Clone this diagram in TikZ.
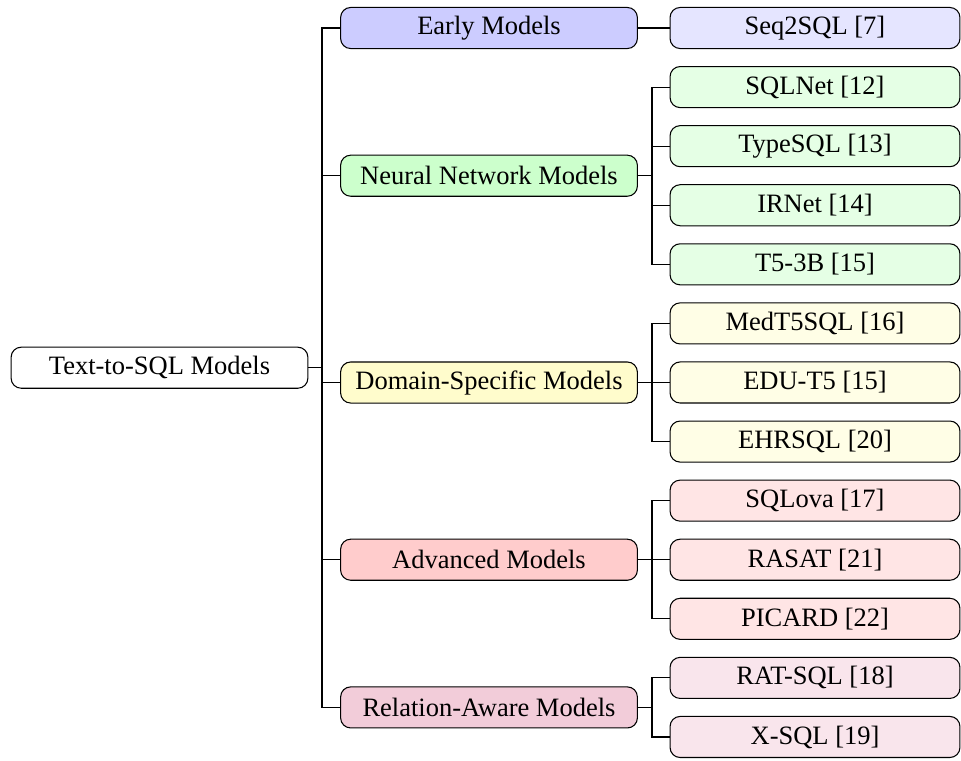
\documentclass[tikz,border=0pt]{standalone}
\usepackage{fontspec}
\setmainfont{Liberation Serif}
\tikzset{
  box/.style={draw, rounded corners=3.8pt, minimum height=15.5pt, inner sep=0pt, align=center},
  rootbox/.style={box, minimum width=112pt},
  catbox/.style={box, minimum width=112pt},
  leafbox/.style={box, minimum width=109.4pt},
}
\begin{document}
\begin{tikzpicture}[x=0.3774pt, y=-0.3774pt]
        \useasboundingbox (0,0) rectangle (961,760);

        % Root
        \node[rootbox] (root) at (159.5,367.7) {Text-to-SQL Models};
        \coordinate (rootj) at (322,367.7);

        % Categories
        \foreach \n/\c/\y/\label in {early/blue/28/Early Models, neural/green/175.7/Neural Network Models, domain/yellow/382.5/Domain-Specific Models, advanced/red/559.7/Advanced Models, relation/purple/707.4/Relation-Aware Models}
            {
                \node[catbox, fill=\c!20] (\n) at (489,\y) {\label};
                \coordinate (\n j) at (652,\y);
                \draw (root.east) -- (rootj) |- (\n.west);
            }

        % Models
        \foreach \n/\p/\c/\k/\label in {seq/early/blue/0/Seq2SQL [7], sqlnet/neural/green/1/SQLNet [12], typesql/neural/green/2/TypeSQL [13], irnet/neural/green/3/IRNet [14], tfive/neural/green/4/T5-3B [15], medt/domain/yellow/5/MedT5SQL [16], edu/domain/yellow/6/EDU-T5 [15], ehr/domain/yellow/7/EHRSQL [20], sqlova/advanced/red/8/SQLova [17], rasat/advanced/red/9/RASAT [21], picard/advanced/red/10/PICARD [22], ratsql/relation/purple/11/RAT-SQL [18], xsql/relation/purple/12/X-SQL [19]}
            {
                \pgfmathsetmacro\y{28+59.08*\k}
                \node[leafbox, fill=\c!10] (\n) at (815,\y) {\label};
                \draw (\p.east) -- (\p j) |- (\n.west);
            }
    \end{tikzpicture}
\end{document}
